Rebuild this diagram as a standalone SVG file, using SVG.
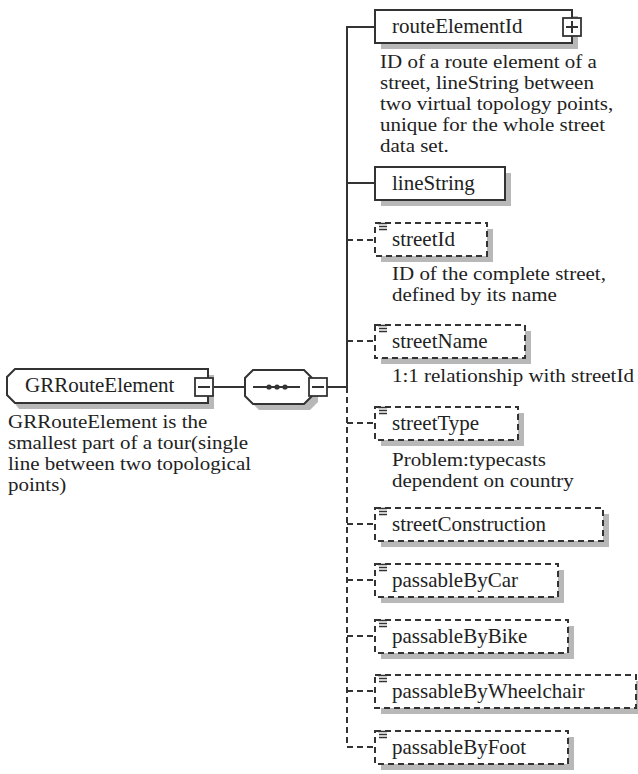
<svg xmlns="http://www.w3.org/2000/svg" width="638" height="774" viewBox="0 0 638 774">
  <style>
    text { font-family: "Liberation Serif", "Times New Roman", serif; font-size: 21px; fill: #222; }
    .doc { font-size: 18.9px; }
    .box { fill: #fff; stroke: #333; stroke-width: 2; }
    .opt { fill: #fff; stroke: #333; stroke-width: 2; stroke-dasharray: 6 4; }
    .shadow { fill: #b8b8b8; stroke: none; }
    .line { fill: none; stroke: #333; stroke-width: 2; }
    .dash { fill: none; stroke: #333; stroke-width: 2; stroke-dasharray: 6 4; }
    .btn { fill: #fff; stroke: #333; stroke-width: 1.8; }
    .icon { stroke: #333; stroke-width: 1.4; }
  </style>
  <defs>
    <!-- "≡" marker for simple-content elements -->
    <g id="simpleIcon">
      <path class="icon" d="M0 0.5 H9 M1 3.5 H9 M1 6.5 H9"/>
    </g>
  </defs>
  <rect width="638" height="774" fill="#fff"/>

  <!-- connectors -->
  <g id="connectors">
    <path class="line" d="M213 387 H245"/>
    <path class="line" d="M327 387 H347"/>
    <path class="line" d="M375 27 H347 V387"/>
    <path class="line" d="M347 183 H375"/>
    <path class="dash" d="M347 387 V747 H375"/>
    <path class="dash" d="M347 240 H375"/>
    <path class="dash" d="M347 341 H375"/>
    <path class="dash" d="M347 423 H375"/>
    <path class="dash" d="M347 524 H375"/>
    <path class="dash" d="M347 580 H375"/>
    <path class="dash" d="M347 636 H375"/>
    <path class="dash" d="M347 691 H375"/>
  </g>

  <!-- root element -->
  <g id="GRRouteElement">
    <path class="shadow" d="M19 375 H214 V409 H19 L13 401 V383 Z"/>
    <path class="box" d="M15 369 H208 V403 H15 L7 395 V377 Z"/>
    <text x="25" y="392">GRRouteElement</text>
    <rect class="btn" x="195" y="378" width="18" height="18"/>
    <path class="line" d="M198 387 H210"/>
    <!-- annotation, widened to the 21px serif advance -->
    <g transform="translate(8 0) scale(1.111 1) translate(-8 0)">
      <text class="doc" x="8" y="428">GRRouteElement is the</text>
      <text class="doc" x="8" y="449">smallest part of a tour(single</text>
      <text class="doc" x="8" y="470">line between two topological</text>
      <text class="doc" x="8" y="491">points)</text>
    </g>
  </g>

  <!-- sequence compositor -->
  <g id="sequence">
    <path class="shadow" d="M259 376 H310 L318 384 V402 L310 410 H259 L251 402 V384 Z"/>
    <path class="box" d="M253 370 H304 L312 378 V396 L304 404 H253 L245 396 V378 Z"/>
    <path class="line" d="M253 387 H300"/>
    <circle cx="269" cy="387" r="2.6" fill="#333"/>
    <circle cx="277" cy="387" r="2.6" fill="#333"/>
    <circle cx="285" cy="387" r="2.6" fill="#333"/>
    <rect class="btn" x="309" y="378" width="18" height="18"/>
    <path class="line" d="M312 387 H324"/>
  </g>

  <g id="routeElementId">
    <rect class="shadow" x="381" y="16" width="197" height="33"/>
    <rect class="box" x="375" y="10" width="197" height="33"/>
    <text x="392" y="33">routeElementId</text>
    <rect class="btn" x="563" y="18" width="18" height="18"/>
    <path class="line" d="M566 27 H578 M572 21 V33"/>
    <g transform="translate(380 0) scale(1.111 1) translate(-380 0)">
      <text class="doc" x="380" y="68">ID of a route element of a</text>
      <text class="doc" x="380" y="89">street, lineString between</text>
      <text class="doc" x="380" y="110">two virtual topology points,</text>
      <text class="doc" x="380" y="131">unique for the whole street</text>
      <text class="doc" x="380" y="152">data set.</text>
    </g>
  </g>

  <g id="lineString">
    <rect class="shadow" x="381" y="173" width="130" height="33"/>
    <rect class="box" x="375" y="167" width="130" height="33"/>
    <text x="392" y="190">lineString</text>
  </g>

  <g id="streetId">
    <rect class="shadow" x="381" y="229" width="112" height="33"/>
    <rect class="opt" x="375" y="223" width="112" height="33"/>
    <use href="#simpleIcon" x="378" y="223"/>
    <text x="392" y="246">streetId</text>
    <g transform="translate(392 0) scale(1.111 1) translate(-392 0)">
      <text class="doc" x="392" y="280">ID of the complete street,</text>
      <text class="doc" x="392" y="301">defined by its name</text>
    </g>
  </g>

  <g id="streetName">
    <rect class="shadow" x="381" y="331" width="150" height="33"/>
    <rect class="opt" x="375" y="325" width="150" height="33"/>
    <use href="#simpleIcon" x="378" y="325"/>
    <text x="392" y="348">streetName</text>
    <g transform="translate(392 0) scale(1.111 1) translate(-392 0)">
      <text class="doc" x="392" y="382">1:1 relationship with streetId</text>
    </g>
  </g>

  <g id="streetType">
    <rect class="shadow" x="381" y="413" width="143" height="33"/>
    <rect class="opt" x="375" y="407" width="143" height="33"/>
    <use href="#simpleIcon" x="378" y="407"/>
    <text x="392" y="430">streetType</text>
    <g transform="translate(392 0) scale(1.111 1) translate(-392 0)">
      <text class="doc" x="392" y="466">Problem:typecasts</text>
      <text class="doc" x="392" y="487">dependent on country</text>
    </g>
  </g>

  <g id="streetConstruction">
    <rect class="shadow" x="381" y="514" width="228" height="33"/>
    <rect class="opt" x="375" y="508" width="228" height="33"/>
    <use href="#simpleIcon" x="378" y="508"/>
    <text x="392" y="531">streetConstruction</text>
  </g>

  <g id="passableByCar">
    <rect class="shadow" x="381" y="570" width="183" height="33"/>
    <rect class="opt" x="375" y="564" width="183" height="33"/>
    <use href="#simpleIcon" x="378" y="564"/>
    <text x="392" y="587">passableByCar</text>
  </g>

  <g id="passableByBike">
    <rect class="shadow" x="381" y="626" width="193" height="33"/>
    <rect class="opt" x="375" y="620" width="193" height="33"/>
    <use href="#simpleIcon" x="378" y="620"/>
    <text x="392" y="643">passableByBike</text>
  </g>

  <g id="passableByWheelchair">
    <rect class="shadow" x="381" y="681" width="261" height="33"/>
    <rect class="opt" x="375" y="675" width="261" height="33"/>
    <use href="#simpleIcon" x="378" y="675"/>
    <text x="392" y="698">passableByWheelchair</text>
  </g>

  <g id="passableByFoot">
    <rect class="shadow" x="381" y="737" width="193" height="33"/>
    <rect class="opt" x="375" y="731" width="193" height="33"/>
    <use href="#simpleIcon" x="378" y="731"/>
    <text x="392" y="754">passableByFoot</text>
  </g>
</svg>
